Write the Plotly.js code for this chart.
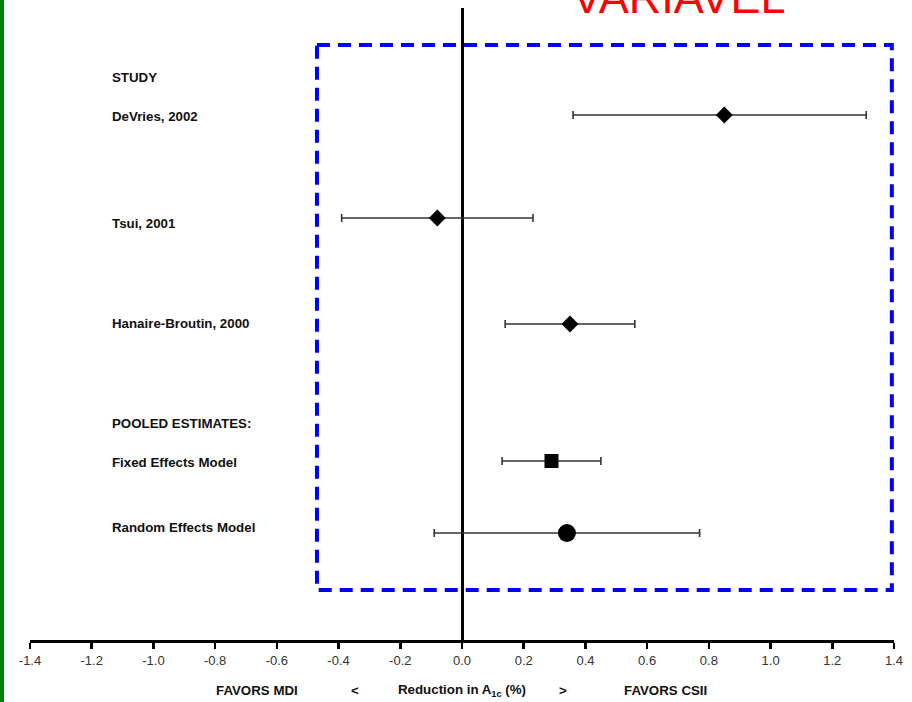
<!DOCTYPE html>
<html>
<head>
<meta charset="utf-8">
<script src="https://cdn.plot.ly/plotly-3.0.1.min.js"></script>
<style>
  html, body { margin: 0; padding: 0; background: #fff; }
  #chart { width: 912px; height: 702px; }
</style>
</head>
<body>
<div id="chart"></div>
<script>
// ---- data ----
const studies = ["DeVries, 2002", "Tsui, 2001", "Hanaire-Broutin, 2000"];
const studyEst = [0.85, -0.08, 0.35];
const studyLow = [0.36, -0.39, 0.14];
const studyHigh = [1.31, 0.23, 0.56];

const pooled = ["Fixed Effects Model", "Random Effects Model"];
const pooledEst = [0.29, 0.34];
const pooledLow = [0.13, -0.09];
const pooledHigh = [0.45, 0.77];

const tickVals = [-1.4, -1.2, -1.0, -0.8, -0.6, -0.4, -0.2, 0.0, 0.2, 0.4, 0.6, 0.8, 1.0, 1.2, 1.4];
const tickLabels = ["-1.4", "-1.2", "-1.0", "-0.8", "-0.6", "-0.4", "-0.2", "0.0", "0.2", "0.4", "0.6", "0.8", "1.0", "1.2", "1.4"];

// ---- layout helpers (row positions on a pixel-like vertical scale) ----
const studyRowY = [115, 218, 324];
const pooledRowY = [461, 533];
const studyLabelY = [116, 223, 323];
const pooledLabelY = [462, 527];

const SANS = "Liberation Sans, Arial, Helvetica, sans-serif";
const PLOT_TOP = 8, PLOT_BOTTOM = 640;
function paperY(py) { return (PLOT_BOTTOM - py) / (PLOT_BOTTOM - PLOT_TOP); }

function errPlus(est, hi) { return est.map((v, i) => hi[i] - v); }
function errMinus(est, lo) { return est.map((v, i) => v - lo[i]); }

const errStyle = { color: "#333", thickness: 1.6, width: 4 };

const traces = [
  {
    type: "scatter", mode: "markers",
    x: studyEst, y: studyRowY, text: studies,
    marker: { symbol: "diamond", size: 13, color: "#000" },
    error_x: Object.assign({ type: "data", symmetric: false,
      array: errPlus(studyEst, studyHigh), arrayminus: errMinus(studyEst, studyLow) }, errStyle),
    hoverinfo: "text+x"
  },
  {
    type: "scatter", mode: "markers",
    x: [pooledEst[0]], y: [pooledRowY[0]], text: [pooled[0]],
    marker: { symbol: "square", size: 14, color: "#000" },
    error_x: Object.assign({ type: "data", symmetric: false,
      array: [pooledHigh[0] - pooledEst[0]], arrayminus: [pooledEst[0] - pooledLow[0]] }, errStyle),
    hoverinfo: "text+x"
  },
  {
    type: "scatter", mode: "markers",
    x: [pooledEst[1]], y: [pooledRowY[1]], text: [pooled[1]],
    marker: { symbol: "circle", size: 18, color: "#000" },
    error_x: Object.assign({ type: "data", symmetric: false,
      array: [pooledHigh[1] - pooledEst[1]], arrayminus: [pooledEst[1] - pooledLow[1]] }, errStyle),
    hoverinfo: "text+x"
  }
];

const labelFont = { family: SANS, size: 13.3, color: "#111" };
const annotations = [];
function leftLabel(text, y) {
  annotations.push({ text: "<b>" + text + "</b>", x: -1.142, y: y, xref: "x", yref: "y",
    xanchor: "left", yanchor: "middle", showarrow: false, font: labelFont });
}
leftLabel("STUDY", 77);
studies.forEach((s, i) => leftLabel(s, studyLabelY[i]));
leftLabel("POOLED ESTIMATES:", 423);
pooled.forEach((s, i) => leftLabel(s, pooledLabelY[i]));

function bottomLabel(text, x) {
  annotations.push({ text: "<b>" + text + "</b>", x: x, y: paperY(690), xref: "x", yref: "paper",
    xanchor: "center", yanchor: "middle", showarrow: false, font: labelFont });
}
bottomLabel("FAVORS MDI", -0.663);
bottomLabel("<", -0.346);
bottomLabel("Reduction in A<sub>1c</sub> (%)", 0.0);
bottomLabel(">", 0.327);
bottomLabel("FAVORS CSII", 0.66);

annotations.push({ text: "VARIAVEL", x: 0.70, y: paperY(-2), xref: "x", yref: "paper",
  xanchor: "center", yanchor: "middle", showarrow: false,
  font: { family: SANS, size: 45, color: "#ff0000" } });

const layout = {
  width: 912, height: 702,
  margin: { l: 30, r: 18, t: PLOT_TOP, b: 702 - PLOT_BOTTOM },
  paper_bgcolor: "#fff", plot_bgcolor: "#fff",
  showlegend: false,
  xaxis: {
    range: [-1.4, 1.4], tickvals: tickVals, ticktext: tickLabels,
    showgrid: false, zeroline: true, zerolinecolor: "#000", zerolinewidth: 3,
    showline: true, linecolor: "#000", linewidth: 3,
    ticks: "outside", ticklen: 6, tickwidth: 2.5, tickcolor: "#000",
    tickfont: { family: SANS, size: 13, color: "#333" },
    fixedrange: true
  },
  yaxis: {
    range: [PLOT_BOTTOM, PLOT_TOP], visible: false, showgrid: false, zeroline: false, fixedrange: true
  },
  shapes: [
    { type: "line", xref: "paper", yref: "paper", x0: -0.0324, x1: -0.0324, y0: -1, y1: 2,
      line: { color: "#008000", width: 4 } },
    { type: "rect", xref: "x", yref: "y", x0: -0.47, x1: 1.393, y0: 45, y1: 590,
      line: { color: "#0000ff", width: 4, dash: "13px,8px" }, fillcolor: "rgba(0,0,0,0)" }
  ],
  annotations: annotations
};

Plotly.newPlot("chart", traces, layout, { displayModeBar: false, staticPlot: true });
</script>
</body>
</html>
